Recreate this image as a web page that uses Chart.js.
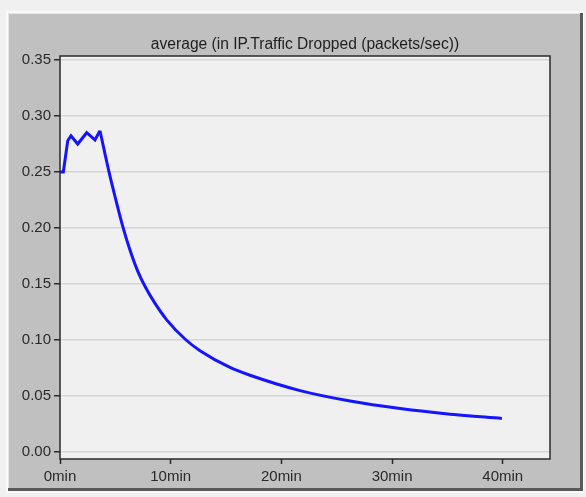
<!DOCTYPE html>
<html>
<head>
<meta charset="utf-8">
<script src="https://cdn.jsdelivr.net/npm/chart.js@4/dist/chart.umd.min.js"></script>
<style>
html,body{margin:0;padding:0;background:#f0f0f0;}
#wrap{position:relative;width:586px;height:497px;}
</style>
</head>
<body>
<div id="wrap"><canvas id="c" width="586" height="497"></canvas></div>
<script>
// Data
const chartTitle = 'average (in IP.Traffic Dropped (packets/sec))';
const timeMinEarly = [0, 0.3, 0.7, 0.99, 1.6, 2.41, 3.16, 3.61];
const droppedEarly = [0.25, 0.25, 0.278, 0.2824, 0.275, 0.2851, 0.2786, 0.2869];
const timeMinLate = [3.61, 4.07, 4.5, 5.0, 5.67, 6.3, 7.0, 7.7, 8.5, 9.64, 11.39, 12.65, 15.36, 17.17, 21.69, 26.21, 30.73, 35.25, 39.92];
const droppedLate = [0.2869, 0.266, 0.247, 0.227, 0.2015, 0.181, 0.162, 0.1475, 0.134, 0.118, 0.100, 0.0905, 0.0755, 0.0685, 0.0548, 0.0455, 0.0388, 0.0338, 0.0300];
const xTickValues = [0, 10, 20, 30, 40];
const yTickValues = [0.00, 0.05, 0.10, 0.15, 0.20, 0.25, 0.30, 0.35];

const toPts = (xs, ys) => xs.map((x, i) => ({x: x, y: ys[i]}));

const FAMILY = '"Liberation Sans", Arial, sans-serif';
const FONT = {family: FAMILY, size: 15};

const framePlugin = {
  id: 'frame',
  beforeDraw(chart) {
    const ctx = chart.ctx, a = chart.chartArea;
    ctx.save();
    ctx.fillStyle = '#f0f0f0';
    ctx.fillRect(0, 0, chart.width, chart.height);
    ctx.fillStyle = '#fafafa';
    ctx.fillRect(6, 11, 578, 482);
    ctx.fillStyle = '#c0c0c0';
    ctx.fillRect(8, 13, 575, 478);
    ctx.fillStyle = '#5a5a5a';
    ctx.fillRect(580, 13, 3, 478);
    ctx.fillRect(8, 488, 575, 3);
    ctx.fillStyle = '#e4e4e4';
    ctx.fillRect(8, 13, 572, 1);
    ctx.fillRect(8, 13, 1, 475);
    ctx.fillStyle = '#f0f0f0';
    ctx.fillRect(a.left, a.top, a.right - a.left, a.bottom - a.top);
    ctx.restore();
  },
  afterDraw(chart) {
    const ctx = chart.ctx, a = chart.chartArea;
    ctx.save();
    ctx.strokeStyle = '#2a2a2a';
    ctx.lineWidth = 1.5;
    ctx.strokeRect(a.left, a.top, a.right - a.left, a.bottom - a.top);
    ctx.fillStyle = '#1e1e1e';
    ctx.font = '15.6px ' + FAMILY;
    ctx.textAlign = 'center';
    ctx.textBaseline = 'middle';
    ctx.fillText(chartTitle, (a.left + a.right) / 2, 45);
    ctx.restore();
  }
};

new Chart(document.getElementById('c'), {
  type: 'line',
  data: {
    datasets: [
      {data: toPts(timeMinEarly, droppedEarly), borderColor: '#1414ff', borderWidth: 3, pointRadius: 0, tension: 0, fill: false},
      {data: toPts(timeMinLate, droppedLate), borderColor: '#1414ff', borderWidth: 3, pointRadius: 0, cubicInterpolationMode: 'monotone', fill: false}
    ]
  },
  options: {
    responsive: false,
    animation: false,
    devicePixelRatio: 1,
    layout: {padding: {left: 0, right: 36, top: 56, bottom: 0}},
    plugins: {
      legend: {display: false},
      tooltip: {enabled: false},
      title: {display: false}
    },
    scales: {
      x: {
        type: 'linear',
        min: 0,
        max: 44.27,
        afterFit(s) { s.height = 38; },
        afterBuildTicks(s) { s.ticks = xTickValues.map(v => ({value: v})); },
        ticks: {
          includeBounds: false,
          color: '#2a2a2a',
          font: FONT,
          padding: 4,
          maxRotation: 0,
          callback: v => v + 'min'
        },
        grid: {drawOnChartArea: false, drawTicks: true, tickLength: 5, tickColor: '#2a2a2a', tickWidth: 1.5},
        border: {display: false}
      },
      y: {
        type: 'linear',
        min: -0.00625,
        max: 0.3536,
        afterFit(s) { s.width = 60; },
        afterBuildTicks(s) { s.ticks = yTickValues.map(v => ({value: v})); },
        ticks: {
          includeBounds: false,
          color: '#2a2a2a',
          font: FONT,
          padding: 3,
          callback: v => Number(v).toFixed(2)
        },
        grid: {color: '#d6d6d6', lineWidth: 1.5, drawTicks: true, tickLength: 6, tickColor: '#2a2a2a', tickWidth: 1.5},
        border: {display: false}
      }
    }
  },
  plugins: [framePlugin]
});
</script>
</body>
</html>
